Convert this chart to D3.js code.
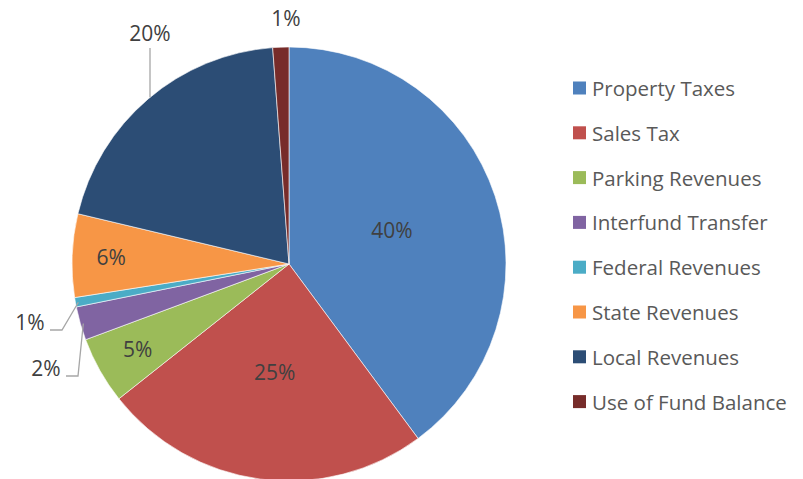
<!DOCTYPE html>
<html lang="en">
<head>
<meta charset="UTF-8">
<title>Revenue Sources</title>
<script src="https://d3js.org/d3.v7.min.js"></script>
<style>
  body { margin: 0; background: #fff; }
  svg { display: block; font-family: "Open Sans", "Noto Sans", sans-serif; }
</style>
</head>
<body>
<div id="chart"></div>
<script>
// data
const categories = ["Property Taxes", "Sales Tax", "Parking Revenues", "Interfund Transfer",
                    "Federal Revenues", "State Revenues", "Local Revenues", "Use of Fund Balance"];
const values = [39.9, 24.5, 5.0, 2.5, 0.7, 6.2, 20.1, 1.2];
const labels = ["40%", "25%", "5%", "2%", "1%", "6%", "20%", "1%"];
const colors = ["#4F81BD", "#C0504D", "#9BBB59", "#8064A2", "#4BACC6", "#F79646", "#2C4D75", "#772C2A"];

const width = 803, height = 479;
const cx = 289, cy = 264, r = 217;

const svg = d3.select("#chart").append("svg")
    .attr("width", width).attr("height", height);

const pie = d3.pie().sort(null).value(d => d);
const arcs = pie(values);
const arc = d3.arc().innerRadius(0).outerRadius(r);

const g = svg.append("g").attr("transform", `translate(${cx},${cy})`);

g.selectAll("path.slice")
  .data(arcs)
  .enter().append("path")
    .attr("class", "slice")
    .attr("d", arc)
    .attr("fill", (d, i) => colors[i])
    .attr("stroke", "#fff")
    .attr("stroke-width", 0.6);

// label placement: "in" at radius k*r along mid angle, "out" with explicit offset
const place = [
  {mode: "in", rad: 0.5},
  {mode: "in", rad: 0.5},
  {mode: "in", rad: 0.8},
  {mode: "out", dx: -243, dy: 104, leader: "left"},
  {mode: "out", dx: -259, dy: 58, leader: "left"},
  {mode: "in", rad: 0.82},
  {mode: "out", dx: -139, dy: -231, leader: "up"},
  {mode: "out", dx: -3, dy: -246}
];

const mid = d => (d.startAngle + d.endAngle) / 2;
const txtColor = "#404040";

arcs.forEach((d, i) => {
  const p = place[i];
  const a = mid(d);
  let x, y;
  if (p.mode === "in") {
    x = Math.sin(a) * r * p.rad;
    y = -Math.cos(a) * r * p.rad;
  } else {
    x = p.dx; y = p.dy;
  }
  g.append("text")
    .attr("x", x).attr("y", y)
    .attr("text-anchor", "middle")
    .attr("dominant-baseline", "central")
    .attr("font-size", 21)
    .attr("fill", txtColor)
    .text(labels[i]);

  if (p.leader === "up") {
    const ly = -Math.sqrt(r * r - x * x);
    g.append("line")
      .attr("x1", x).attr("x2", x)
      .attr("y1", y + 15).attr("y2", ly)
      .attr("stroke", "#A6A6A6").attr("stroke-width", 1.3);
  } else if (p.leader === "left") {
    const ex = Math.sin(a) * r, ey = -Math.cos(a) * r;
    const x0 = x + 20, x1 = x + 32;
    const yy = y + 8;
    g.append("path")
      .attr("d", `M${x0},${yy}H${x1}L${ex + 3},${ey}`)
      .attr("fill", "none")
      .attr("stroke", "#A6A6A6").attr("stroke-width", 1.3);
  }
});

// legend
const legend = svg.append("g").attr("transform", "translate(573,88)");
const item = legend.selectAll("g")
  .data(categories)
  .enter().append("g")
    .attr("transform", (d, i) => `translate(0,${i * 44.8})`);
item.append("rect")
  .attr("x", 0).attr("y", -6.5)
  .attr("width", 13).attr("height", 13)
  .attr("fill", (d, i) => colors[i]);
item.append("text")
  .attr("x", 19).attr("y", 0)
  .attr("dominant-baseline", "central")
  .attr("font-size", 20.5)
  .attr("fill", "#595959")
  .text(d => d);
</script>
</body>
</html>
